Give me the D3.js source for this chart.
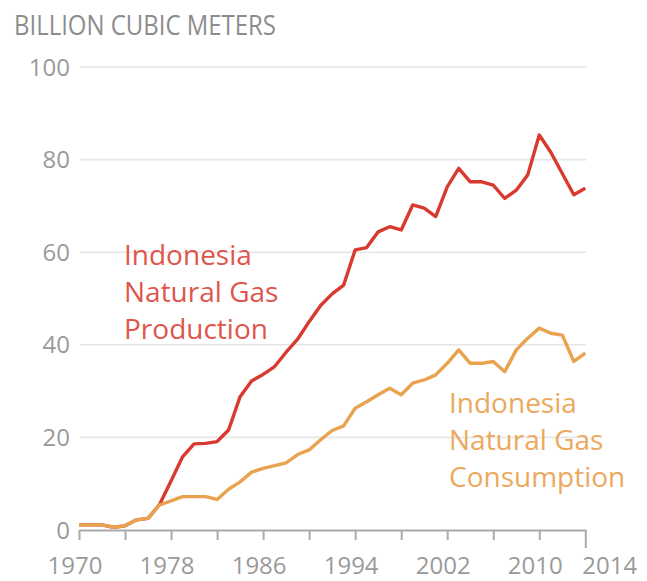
<!DOCTYPE html>
<html>
<head>
<meta charset="utf-8">
<script src="https://cdn.jsdelivr.net/npm/d3@7"></script>
<style>
  body { margin: 0; background: #fff; }
  svg { display: block; }
  .tick-label { font-family: "Open Sans", sans-serif; font-size: 24px; fill: #9a9a9a; }
  .title { font-family: "Open Sans", sans-serif; font-size: 27px; fill: #8c8c8c; }
  .series-label { font-family: "Open Sans", sans-serif; font-size: 28px; }
</style>
</head>
<body>
<div id="chart"></div>
<script>
const width = 647;
const height = 581;

// data (billion cubic meters)
const years = d3.range(1970, 2015);
const production = [
  1.1, 1.1, 1.1, 0.6, 0.9, 2.2, 2.5, 5.5, 10.6, 15.8,
  18.6, 18.7, 19.1, 21.6, 28.8, 32.2, 33.6, 35.3, 38.4, 41.2,
  45.0, 48.5, 51.0, 52.9, 60.5, 61.0, 64.4, 65.5, 64.8, 70.2,
  69.5, 67.7, 74.1, 78.1, 75.2, 75.2, 74.5, 71.6, 73.4, 76.7,
  85.3, 81.6, 77.0, 72.4, 73.8
];
const consumption = [
  1.1, 1.1, 1.1, 0.6, 0.9, 2.2, 2.5, 5.4, 6.3, 7.2,
  7.2, 7.2, 6.6, 8.8, 10.4, 12.5, 13.3, 13.9, 14.5, 16.3,
  17.3, 19.5, 21.5, 22.5, 26.3, 27.7, 29.2, 30.6, 29.2, 31.7,
  32.4, 33.5, 36.0, 38.9, 36.0, 36.0, 36.4, 34.2, 38.9, 41.4,
  43.6, 42.5, 42.1, 36.4, 38.2
];
const xTicks = d3.range(1970, 2015, 4);
const xTickLabels = [1970, 1978, 1986, 1994, 2002, 2010, 2014];
const yTicks = [0, 20, 40, 60, 80, 100];
const productionLabel = ['Indonesia', 'Natural Gas', 'Production'];
const consumptionLabel = ['Indonesia', 'Natural Gas', 'Consumption'];

const x = d3.scaleLinear().domain([1970, 2014]).range([79, 585.3]);
const y = d3.scaleLinear().domain([0, 100]).range([530, 67]);

const svg = d3.select('#chart').append('svg')
  .attr('width', width)
  .attr('height', height);

// the original title face is condensed, so squeeze it to the same width
svg.append('text')
  .attr('class', 'title')
  .attr('x', 14)
  .attr('y', 35)
  .attr('textLength', 262)
  .attr('lengthAdjust', 'spacingAndGlyphs')
  .text('BILLION CUBIC METERS');

// horizontal grid
svg.append('g')
  .selectAll('line')
  .data(yTicks.filter((d) => d > 0))
  .join('line')
  .attr('x1', 80)
  .attr('x2', 586.5)
  .attr('y1', (d) => y(d))
  .attr('y2', (d) => y(d))
  .attr('stroke', '#e6e6e6')
  .attr('stroke-width', 1.6);

svg.append('g')
  .selectAll('text')
  .data(yTicks)
  .join('text')
  .attr('class', 'tick-label')
  .attr('x', 70)
  .attr('y', (d) => y(d))
  .attr('dy', '0.36em')
  .attr('text-anchor', 'end')
  .text(String);

// x axis
const xAxis = d3.axisBottom(x)
  .tickValues(xTicks)
  .tickSize(10)
  .tickSizeOuter(0)
  .tickFormat('');

const axisG = svg.append('g')
  .attr('transform', `translate(0,${y(0)})`)
  .call(xAxis);

axisG.select('.domain').attr('stroke', '#aaa').attr('stroke-width', 2);
axisG.selectAll('.tick line')
  .attr('stroke', '#aaa')
  .attr('stroke-width', 2)
  .attr('y2', (d) => (d === 2014 ? 18 : 10));

svg.append('g')
  .selectAll('text')
  .data(xTickLabels)
  .join('text')
  .attr('class', 'tick-label')
  .attr('x', (d) => (d === 2014 ? x(d) - 3 : x(d) - 4))
  .attr('y', 574)
  .attr('text-anchor', (d) => (d === 2014 ? 'start' : 'middle'))
  .text(String);

// lines
const line = d3.line()
  .x((d, i) => x(years[i]))
  .y((d) => y(d));

svg.append('path')
  .datum(production)
  .attr('fill', 'none')
  .attr('stroke', '#d83a30')
  .attr('stroke-width', 3.4)
  .attr('stroke-linejoin', 'round')
  .attr('d', line);

svg.append('path')
  .datum(consumption)
  .attr('fill', 'none')
  .attr('stroke', '#e9a24e')
  .attr('stroke-width', 3.4)
  .attr('stroke-linejoin', 'round')
  .attr('d', line);

// series labels
svg.append('g')
  .selectAll('text')
  .data(productionLabel)
  .join('text')
  .attr('class', 'series-label')
  .attr('x', 124)
  .attr('y', (d, i) => 265 + i * 37)
  .attr('fill', '#e0554c')
  .text(String);

svg.append('g')
  .selectAll('text')
  .data(consumptionLabel)
  .join('text')
  .attr('class', 'series-label')
  .attr('x', 449)
  .attr('y', (d, i) => 413 + i * 37)
  .attr('fill', '#eba95e')
  .text(String);
</script>
</body>
</html>
